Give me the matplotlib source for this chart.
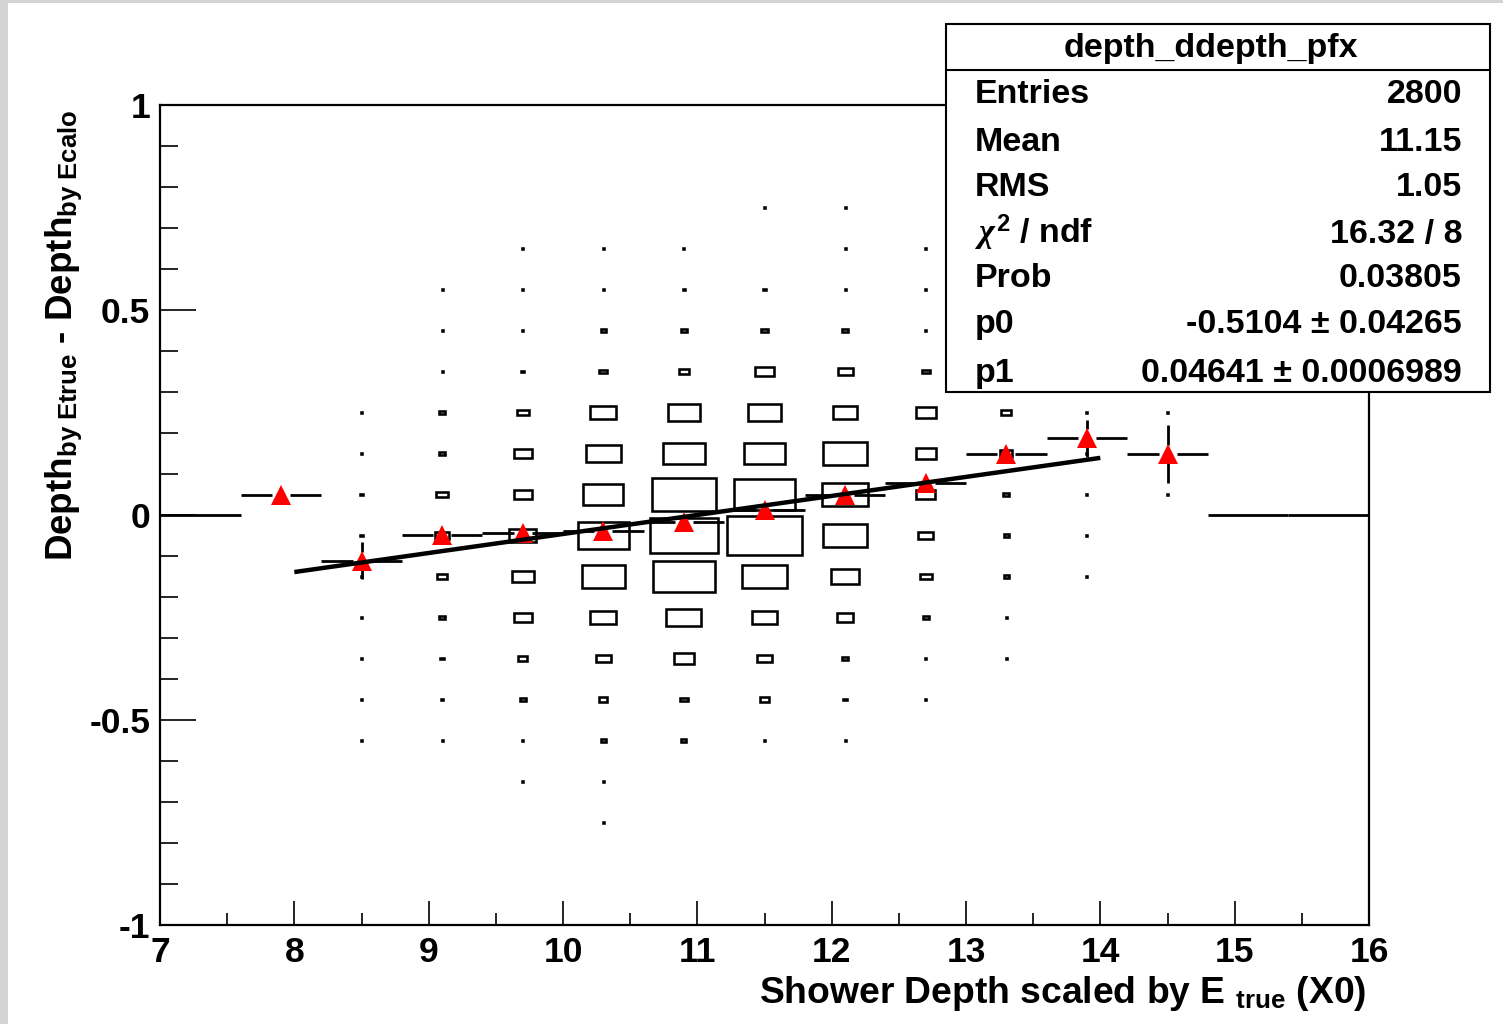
import numpy as np
import matplotlib
matplotlib.use("Agg")
import matplotlib.pyplot as plt
from matplotlib.patches import Rectangle
from matplotlib.lines import Line2D

# ------------------------------------------------------------------ data
x_bin_width = 0.6
y_bin_width = 0.1
x_centers = [7.3, 7.9, 8.5, 9.1, 9.7, 10.3, 10.9, 11.5, 12.1, 12.7, 13.3, 13.9, 14.5, 15.1, 15.7]
y_centers = [0.75, 0.65, 0.55, 0.45, 0.35, 0.25, 0.15, 0.05,
             -0.05, -0.15, -0.25, -0.35, -0.45, -0.55, -0.65, -0.75]

# 2D histogram contents (rows follow y_centers, columns follow x_centers)
counts = [
    [0, 0, 0, 0, 0, 0, 0, 1, 1, 0, 0, 0, 0, 0, 0],
    [0, 0, 0, 0, 1, 1, 1, 0, 1, 1, 0, 0, 0, 0, 0],
    [0, 0, 0, 1, 1, 1, 5, 4, 1, 1, 0, 0, 0, 0, 0],
    [0, 0, 0, 1, 1, 9, 12, 14, 12, 1, 0, 0, 0, 0, 0],
    [0, 0, 0, 1, 5, 14, 17, 33, 27, 14, 2, 0, 0, 0, 0],
    [0, 0, 2, 11, 21, 47, 59, 60, 43, 36, 18, 1, 1, 0, 0],
    [0, 0, 1, 12, 33, 62, 76, 73, 78, 36, 22, 2, 0, 0, 0],
    [0, 1, 6, 21, 33, 72, 114, 108, 82, 34, 11, 1, 1, 0, 0],
    [0, 0, 6, 24, 49, 92, 121, 136, 78, 27, 9, 1, 0, 0, 0],
    [0, 0, 2, 17, 40, 78, 111, 80, 50, 21, 8, 1, 0, 0, 0],
    [0, 0, 1, 11, 33, 47, 63, 44, 30, 11, 1, 0, 0, 0, 0],
    [0, 0, 1, 6, 17, 28, 37, 27, 12, 1, 1, 0, 0, 0, 0],
    [0, 0, 1, 5, 11, 15, 14, 15, 6, 1, 0, 0, 0, 0, 0],
    [0, 0, 1, 1, 1, 9, 9, 1, 1, 0, 0, 0, 0, 0, 0],
    [0, 0, 0, 0, 1, 1, 0, 0, 0, 0, 0, 0, 0, 0, 0],
    [0, 0, 0, 0, 0, 1, 0, 0, 0, 0, 0, 0, 0, 0, 0],
]
box_full_count = 145.0   # content that would fill a whole cell

# profile (mean and error of y in each x bin)
prof_mean = [0.0, 0.049, -0.112, -0.049, -0.043, -0.039, -0.018, 0.012,
             0.048, 0.079, 0.150, 0.187, 0.149, 0.0, 0.0]
prof_err = [0.0, 0.0, 0.045, 0.018, 0.012, 0.010, 0.008, 0.008,
            0.010, 0.013, 0.018, 0.045, 0.070, 0.0, 0.0]

# linear fit pol1
p0 = -0.5104
p1 = 0.04641
fit_range = [8.0, 14.0]

x_ticks = [7, 8, 9, 10, 11, 12, 13, 14, 15, 16]
x_tick_labels = ["7", "8", "9", "10", "11", "12", "13", "14", "15", "16"]
y_ticks = [-1.0, -0.5, 0.0, 0.5, 1.0]
y_tick_labels = ["-1", "-0.5", "0", "0.5", "1"]

stats_title = "depth_ddepth_pfx"
stats_labels = ["Entries", "Mean", "RMS", r"$\chi^{\mathrm{2}}$ / ndf", "Prob", "p0", "p1"]
stats_values = ["2800", "11.15", "1.05", "16.32 / 8", "0.03805",
                "-0.5104 ± 0.04265", "0.04641 ± 0.0006989"]

x_title = r"Shower Depth scaled by E $_{\mathrm{true}}$ (X0)"
y_title = r"Depth$_{\mathrm{by\ Etrue}}$ - Depth$_{\mathrm{by\ Ecalo}}$"

# ------------------------------------------------------------------ style
plt.rcParams["font.family"] = ["Liberation Sans", "DejaVu Sans"]
plt.rcParams["font.weight"] = "bold"
plt.rcParams["mathtext.fontset"] = "custom"
plt.rcParams["mathtext.rm"] = "Liberation Sans:bold"
plt.rcParams["mathtext.bf"] = "Liberation Sans:bold"
plt.rcParams["mathtext.sf"] = "Liberation Sans:bold"
plt.rcParams["mathtext.it"] = "Liberation Serif:italic"

W, H = 1503, 1024
fig = plt.figure(figsize=(W / 100, H / 100), dpi=100)
fig.patch.set_facecolor("white")

# grey canvas edges
fig.add_artist(Rectangle((0, 0), 8 / W, 1, transform=fig.transFigure,
                         fc="#d4d4d4", ec="none", zorder=0))
fig.add_artist(Rectangle((0, 1 - 3 / H), 1, 3 / H, transform=fig.transFigure,
                         fc="#d4d4d4", ec="none", zorder=0))

ax_l, ax_r, ax_t, ax_b = 160, 1369, 105, 925
ax = fig.add_axes([ax_l / W, 1 - ax_b / H, (ax_r - ax_l) / W, (ax_b - ax_t) / H])
ax.set_xlim(7, 16)
ax.set_ylim(-1, 1)
for s in ax.spines.values():
    s.set_linewidth(1.6)

ax.set_xticks(x_ticks)
ax.set_xticklabels(x_tick_labels)
ax.set_xticks(np.arange(7.5, 16, 1.0), minor=True)
ax.set_yticks(y_ticks)
ax.set_yticklabels(y_tick_labels)
ax.set_yticks(np.arange(-0.9, 1.0, 0.1), minor=True)
ax.tick_params(axis="x", which="major", direction="in", length=17.3, width=1.2,
               pad=8, labelsize=25.5)
ax.tick_params(axis="x", which="minor", direction="in", length=8.6, width=1.2)
ax.tick_params(axis="y", which="major", direction="in", length=26, width=1.2,
               pad=7, labelsize=25.5)
ax.tick_params(axis="y", which="minor", direction="in", length=13, width=1.2)
for lab in ax.get_xticklabels() + ax.get_yticklabels():
    lab.set_fontweight("bold")

bbox = ax.get_window_extent()
px_per_x = bbox.width / 9.0
px_per_y = bbox.height / 2.0

# ------------------------------------------------------------------ boxes
min_w = 1.0 / px_per_x
min_h = 1.0 / px_per_y
for i, yc in enumerate(y_centers):
    for j, xc in enumerate(x_centers):
        c = counts[i][j]
        if c <= 0:
            continue
        f = c / box_full_count
        w = max(x_bin_width * f, min_w)
        h = max(y_bin_width * f, min_h)
        ax.add_patch(Rectangle((xc - w / 2, yc - h / 2), w, h, fill=False,
                               ec="black", lw=1.85, snap=True, zorder=2))

# ------------------------------------------------------------------ profile
gap_x = 9.0 / px_per_x
gap_y = 9.0 / px_per_y
col_tot = np.array(counts).sum(axis=0)
elw = 2.0
for j, xc in enumerate(x_centers):
    lo, hi = xc - x_bin_width / 2, xc + x_bin_width / 2
    m, e = prof_mean[j], prof_err[j]
    if col_tot[j] == 0:
        ax.plot([lo, hi], [m, m], color="black", lw=elw, solid_capstyle="butt", zorder=3)
        continue
    ax.plot([lo, xc - gap_x], [m, m], color="black", lw=elw, solid_capstyle="butt", zorder=3)
    ax.plot([xc + gap_x, hi], [m, m], color="black", lw=elw, solid_capstyle="butt", zorder=3)
    if e > gap_y:
        ax.plot([xc, xc], [m + gap_y, m + e], color="black", lw=elw, solid_capstyle="butt", zorder=3)
        ax.plot([xc, xc], [m - e, m - gap_y], color="black", lw=elw, solid_capstyle="butt", zorder=3)
    ax.plot([xc], [m], marker="^", ms=15, color="red", mec="red", mew=0,
            linestyle="none", zorder=4)

# ------------------------------------------------------------------ fit
fx = np.array(fit_range)
ax.plot(fx, p0 + p1 * fx, color="black", lw=3.2, solid_capstyle="butt", zorder=5)

# ------------------------------------------------------------------ titles
fig.text(1366 / W, 1 - 1003 / H, x_title, ha="right", va="baseline",
         fontsize=26.8, fontweight="bold")
fig.text(72 / W, 1 - 110 / H, y_title, rotation=90, rotation_mode="anchor",
         ha="right", va="baseline", fontsize=26.5, fontweight="bold")

# ------------------------------------------------------------------ stats box
bx0, by0, bx1, by1 = 946, 24, 1490, 392
fig.add_artist(Rectangle((bx0 / W, 1 - by1 / H), (bx1 - bx0) / W, (by1 - by0) / H,
                         transform=fig.transFigure, fc="white", ec="black",
                         lw=1.5, zorder=10))
fig.add_artist(Line2D([bx0 / W, bx1 / W], [1 - 70 / H, 1 - 70 / H],
                      transform=fig.transFigure, color="black", lw=1.5, zorder=11))
fig.text(1211 / W, 1 - 57 / H, stats_title, ha="center", va="baseline",
         fontsize=24.5, fontweight="bold", zorder=12)
baselines = [103, 151, 196, 243, 287, 333, 382]
for lab, val, b in zip(stats_labels, stats_values, baselines):
    fig.text(975 / W, 1 - b / H, lab, ha="left", va="baseline",
             fontsize=24.5, fontweight="bold", zorder=12)
    fig.text(1462 / W, 1 - b / H, val, ha="right", va="baseline",
             fontsize=24.5, fontweight="bold", zorder=12)

fig.savefig("out.png", dpi=100)
